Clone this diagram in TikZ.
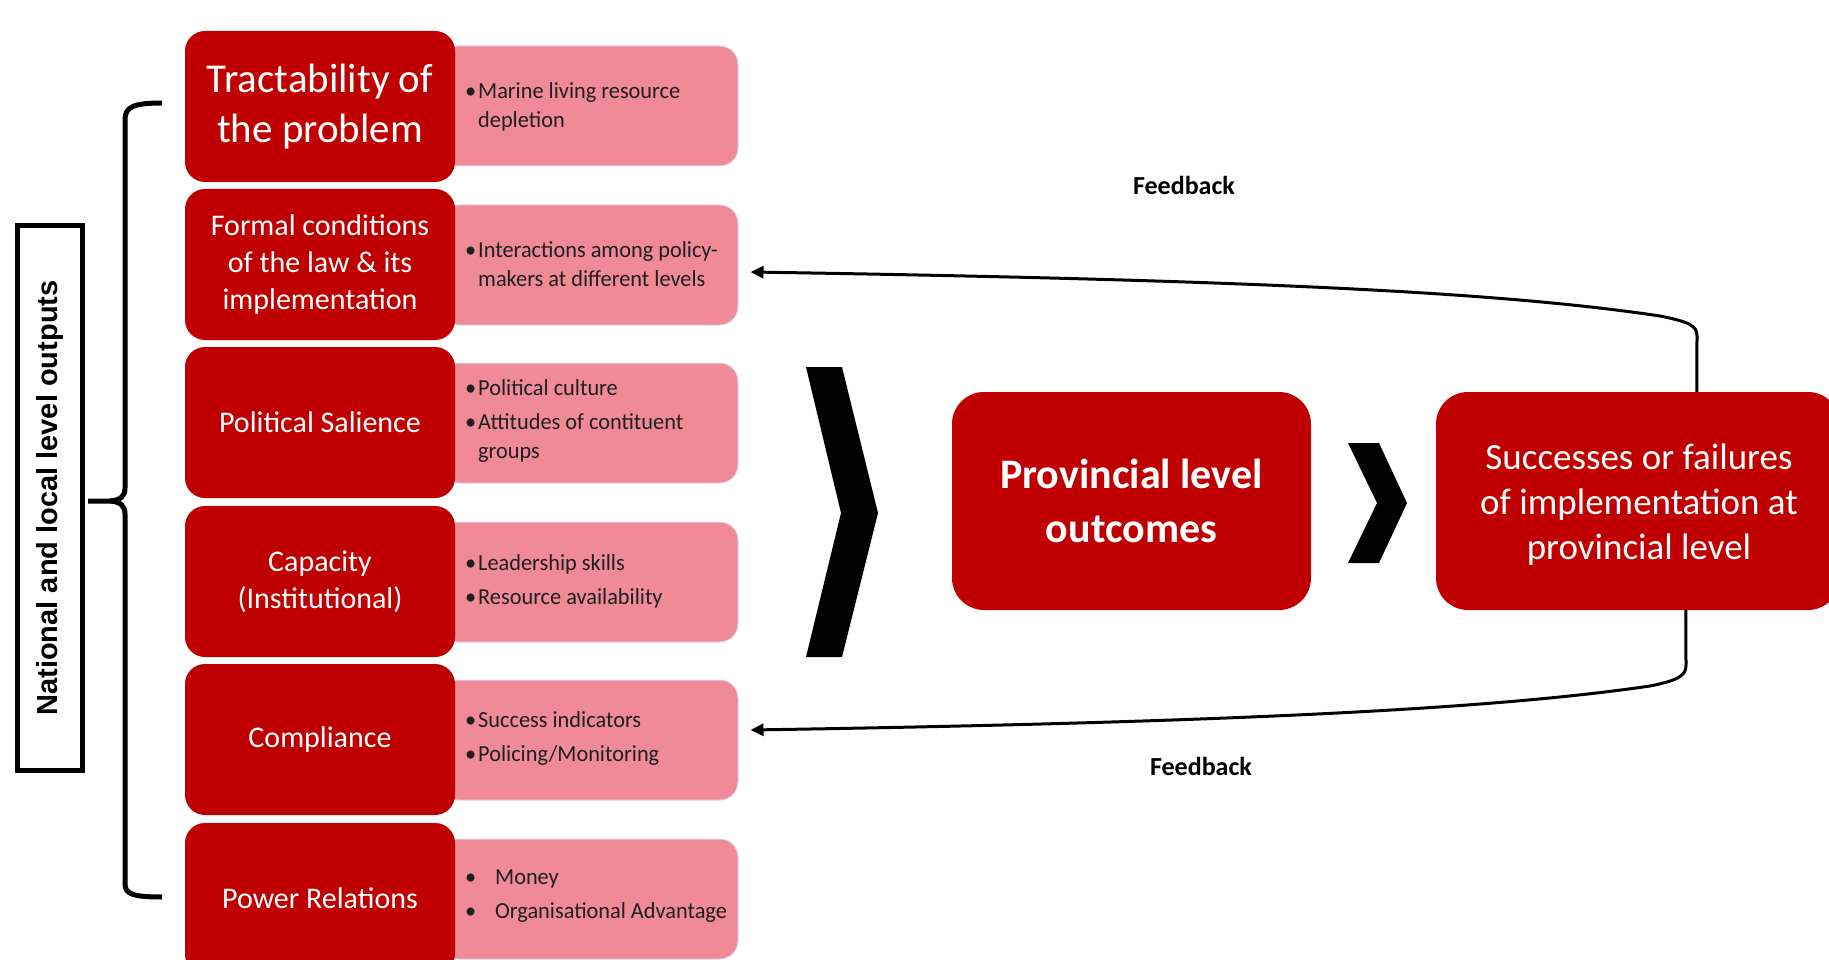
\documentclass[tikz,border=0pt]{standalone}
\usepackage{fontspec}
\setmainfont{Carlito}
\newfontfamily\arialfont{Liberation Sans}
\newfontfamily\condfont{Carlito}[FakeStretch=0.97]
\usetikzlibrary{arrows.meta}
\definecolor{dred}{RGB}{192,0,0}
\definecolor{pinkb}{RGB}{239,138,150}
\definecolor{pinkline}{RGB}{222,216,236}
\newcommand\bl[1]{\makebox[13pt][l]{•}#1}
\newcommand\bll[1]{\makebox[30pt][l]{•}#1}
\newcommand\ind{\hspace*{13pt}}
\tikzset{
  dbox/.style={rectangle, rounded corners=20pt, fill=dred, minimum width=270pt, minimum height=151pt, text=white, align=center, inner sep=0pt, font=\fontsize{30}{37}\selectfont},
  pbox/.style={rectangle, rounded corners=18pt, fill=pinkb, draw=pinkline, line width=1pt, minimum width=298pt, minimum height=120pt, inner sep=0pt},
  ptext/.style={anchor=west, align=left, font=\condfont\fontsize{23}{29}\selectfont, text=black!88, inner sep=0pt},
  bigbox/.style={rectangle, rounded corners=32pt, fill=dred, text=white, align=center, inner sep=0pt, minimum height=218pt},
  fb/.style={line width=3pt, -{Triangle[length=13pt,width=12pt]}},
  fblabel/.style={font=\bfseries\fontsize{26}{30}\selectfont, inner sep=0pt}
}
\begin{document}
\begin{tikzpicture}[x=1pt,y=-1pt]
\useasboundingbox (0,0) rectangle (1829,960);
\clip (0,0) rectangle (1829,960);

% pink boxes
\node[pbox] (p1) at (589,106) {};
\node[pbox] (p2) at (589,265) {};
\node[pbox] (p3) at (589,423) {};
\node[pbox] (p4) at (589,582) {};
\node[pbox] (p5) at (589,740) {};
\node[pbox] (p6) at (589,899) {};

% dark boxes
\node[dbox, font=\fontsize{41}{50}\selectfont] (d1) at (320,106.5) {Tractability of\\the problem};
\node[dbox] (d2) at (320,264.5) {Formal conditions\\of the law \& its\\implementation};
\node[dbox] (d3) at (320,422.5) {Political Salience};
\node[dbox] (d4) at (320,581.5) {Capacity\\(Institutional)};
\node[dbox] (d5) at (320,739.5) {Compliance};
\node[dbox] (d6) at (320,898.5) {Power Relations};

% pink texts
\node[ptext] (t1) at (465,107) {\bl{Marine living resource}\\\ind depletion};
\node[ptext] (t2) at (465,264) {\bl{Interactions among policy-}\\\ind makers at different levels};
\node[ptext] (t3) at (465,421) {\bl{Political culture}\\[5pt]\bl{Attitudes of contituent}\\\ind groups};
\node[ptext] (t4) at (465,581) {\bl{Leadership skills}\\[5pt]\bl{Resource availability}};
\node[ptext] (t5) at (465,738) {\bl{Success indicators}\\[5pt]\bl{Policing/Monitoring}};
\node[ptext] (t6) at (465,896) {\bll{Money}\\[5pt]\bll{Organisational Advantage}};

% left label
\node[draw, line width=5pt, rotate=90, minimum width=545pt, minimum height=65pt, inner sep=0pt,
      font=\arialfont\bfseries\fontsize{29}{35}\selectfont] (lbl) at (50,498) {National and local level outputs};

% brace
\draw[line width=5pt] (162,103) .. controls (133,103) and (125,107) .. (125,120) -- (125,488)
   .. controls (125,496) and (121,500) .. (110,501) -- (88,501);
\draw[line width=5pt] (110,501) .. controls (121,502) and (125,506) .. (125,514) -- (125,884)
   .. controls (125,894) and (133,897) .. (162,897);

% chevrons
\fill (806,367) -- (842,367) -- (878,513) -- (842,657) -- (806,657) -- (841,513) -- cycle;
\fill (1348,443) -- (1379,443) -- (1407,503) -- (1379,563) -- (1348,563) -- (1377,503) -- cycle;

% right boxes
\node[bigbox, minimum width=359pt, font=\bfseries\fontsize{42}{54}\selectfont] (prov) at (1131.5,501) {Provincial level\\outcomes};
\node[bigbox, minimum width=404pt, font=\fontsize{37}{45}\selectfont] (succ) at (1638,501) {};
\node[align=center, text=white, inner sep=0pt, font=\fontsize{37}{45}\selectfont] (succt) at (1639,505) {Successes or failures\\of implementation at\\provincial level};

% feedback connectors
\draw[fb] ([xshift=261pt]succ.north west) -- (1697,336) .. controls (1697,326) and (1690,322) .. (1660,316)
   .. controls (1500,292) and (1250,280) .. ([xshift=12pt,yshift=-7pt]p2.east);
\draw[fb] ([xshift=250pt]succ.south west) -- (1686,665) .. controls (1686,675) and (1680,680) .. (1650,686)
   .. controls (1500,708) and (1250,722) .. ([xshift=12pt,yshift=10pt]p5.east);

\node[fblabel] (fbt) at (1184,185) {Feedback};
\node[fblabel] (fbb) at (1201,766) {Feedback};
\end{tikzpicture}
\end{document}
